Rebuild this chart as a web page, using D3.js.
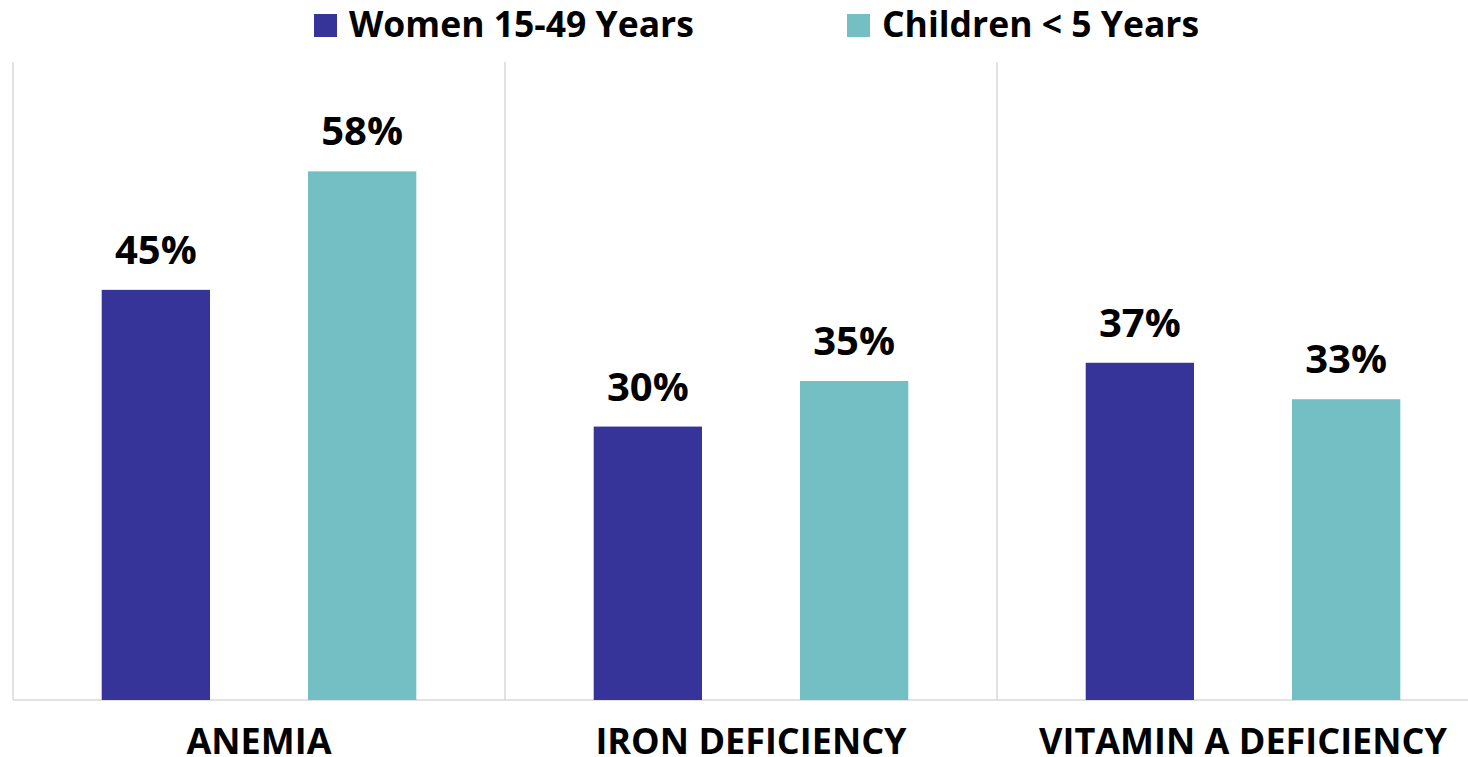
<!DOCTYPE html>
<html>
<head>
<meta charset="utf-8">
<script src="https://cdn.jsdelivr.net/npm/d3@7"></script>
<style>
  body { margin: 0; background: #fff; }
  text { font-family: "Open Sans", sans-serif; font-weight: bold; fill: #000; }
</style>
</head>
<body>
<div id="chart"></div>
<script>
// chart data
var categories = ["ANEMIA", "IRON DEFICIENCY", "VITAMIN A DEFICIENCY"];
var seriesNames = ["Women 15-49 Years", "Children < 5 Years"];
var women = [45, 30, 37];
var children = [58, 35, 33];
var colors = ["#363399", "#74BFC4"];

var width = 1468, height = 757;
var margin = {top: 62, left: 13, bottom: 57};
var plotW = 492 * categories.length,
    plotH = height - margin.top - margin.bottom;

var rows = categories.map(function(c, i) {
    return {cat: c, values: [women[i], children[i]]};
});

var svg = d3.select("#chart").append("svg")
    .attr("width", width)
    .attr("height", height);

var g = svg.append("g")
    .attr("transform", "translate(" + margin.left + "," + margin.top + ")");

var x0 = d3.scaleBand().domain(categories).range([0, plotW]).padding(0);
var x1 = d3.scaleBand().domain([0, 1]).range([0, x0.bandwidth()])
    .paddingInner(0.475).paddingOuter(0.43);
var y = d3.scaleLinear().domain([0, 70]).range([plotH, 0]);

// vertical separators between categories
g.selectAll(".sep")
    .data(d3.range(categories.length + 1))
    .enter().append("line")
    .attr("x1", function(i) { return i * x0.step(); })
    .attr("x2", function(i) { return i * x0.step(); })
    .attr("y1", 0)
    .attr("y2", plotH)
    .attr("stroke", "#d9d9d9")
    .attr("stroke-width", 1.5);

// baseline
g.append("line")
    .attr("x1", 0).attr("x2", plotW)
    .attr("y1", plotH).attr("y2", plotH)
    .attr("stroke", "#d9d9d9")
    .attr("stroke-width", 1.5);

var groups = g.selectAll(".cat")
    .data(rows)
    .enter().append("g")
    .attr("class", "cat")
    .attr("transform", function(d) { return "translate(" + x0(d.cat) + ",0)"; });

groups.selectAll("rect")
    .data(function(d) { return d.values; })
    .enter().append("rect")
    .attr("x", function(d, i) { return x1(i); })
    .attr("y", function(d) { return y(d); })
    .attr("width", x1.bandwidth())
    .attr("height", function(d) { return plotH - y(d); })
    .attr("fill", function(d, i) { return colors[i]; });

groups.selectAll(".val")
    .data(function(d) { return d.values; })
    .enter().append("text")
    .attr("class", "val")
    .attr("x", function(d, i) { return x1(i) + x1.bandwidth() / 2; })
    .attr("y", function(d) { return y(d) - 26; })
    .attr("text-anchor", "middle")
    .style("font-size", "40px")
    .text(function(d) { return d + "%"; });

groups.append("text")
    .attr("x", x0.bandwidth() / 2)
    .attr("y", plotH + 54)
    .attr("text-anchor", "middle")
    .style("font-size", "36px")
    .text(function(d) { return d.cat; });

// legend
var legendX = [314, 847];
var legend = svg.selectAll(".legend")
    .data(seriesNames)
    .enter().append("g")
    .attr("class", "legend")
    .attr("transform", function(d, i) { return "translate(" + legendX[i] + ",14)"; });

legend.append("rect")
    .attr("width", 23)
    .attr("height", 23)
    .attr("fill", function(d, i) { return colors[i]; });

legend.append("text")
    .attr("x", 35)
    .attr("y", 23)
    .style("font-size", "35.5px")
    .text(function(d) { return d; });
</script>
</body>
</html>
